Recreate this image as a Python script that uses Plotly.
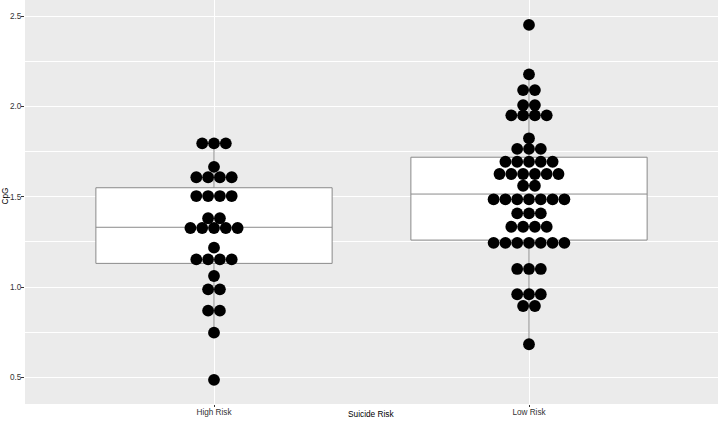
import plotly.graph_objects as go

# ---- data ----
categories = ["High Risk", "Low Risk"]
cat_pos = [1, 2]

# dot-row values (each entry = one dot)
high_risk = ([1.796] * 3 + [1.666] * 1 + [1.608] * 4 + [1.504] * 4 + [1.381] * 2 +
             [1.327] * 5 + [1.218] * 1 + [1.153] * 4 + [1.061] * 1 + [0.987] * 2 +
             [0.869] * 2 + [0.747] * 1 + [0.486] * 1)
low_risk = ([2.452] * 1 + [2.178] * 1 + [2.091] * 2 + [2.008] * 2 + [1.951] * 4 +
            [1.824] * 1 + [1.765] * 3 + [1.694] * 5 + [1.626] * 6 + [1.561] * 2 +
            [1.486] * 7 + [1.408] * 3 + [1.334] * 4 + [1.245] * 7 + [1.100] * 3 +
            [0.960] * 3 + [0.895] * 2 + [0.683] * 1)

# box statistics
box_q1 = [1.131, 1.260]
box_median = [1.331, 1.515]
box_q3 = [1.550, 1.719]
box_lower = [0.747, 0.683]
box_upper = [1.796, 2.178]

y_ticks = [0.5, 1.0, 1.5, 2.0, 2.5]
y_ticktext = ["0.5", "1.0", "1.5", "2.0", "2.5"]

# ---- figure ----
W, H = 718, 421
ML, MR, MT, MB = 25, 0, 0, 17
x_range = [0.4, 2.6]
y_range = [0.352, 2.590]

plot_w = W - ML - MR
dot_px = 11.8
dot_w = dot_px / plot_w * (x_range[1] - x_range[0])

fig = go.Figure()

for i, c in enumerate(categories):
    fig.add_trace(go.Box(
        x=[cat_pos[i]], q1=[box_q1[i]], median=[box_median[i]], q3=[box_q3[i]],
        lowerfence=[box_lower[i]], upperfence=[box_upper[i]],
        width=0.75, fillcolor="white", line=dict(color="#8a8a8a", width=1),
        whiskerwidth=0, boxpoints=False, hoverinfo="skip", showlegend=False,
    ))

def stack(values, center):
    xs, ys = [], []
    groups = {}
    for v in values:
        groups.setdefault(v, 0)
        groups[v] += 1
    for v, n in groups.items():
        for k in range(n):
            xs.append(center + (k - (n - 1) / 2) * dot_w)
            ys.append(v)
    return xs, ys

for vals, c in ((high_risk, cat_pos[0]), (low_risk, cat_pos[1])):
    xs, ys = stack(vals, c)
    fig.add_trace(go.Scatter(
        x=xs, y=ys, mode="markers",
        marker=dict(color="black", size=dot_px, line=dict(width=0)),
        showlegend=False, hoverinfo="skip",
    ))

font_family = "Liberation Sans, Arial, sans-serif"
tick_font = dict(size=8.2, color="#333333", family=font_family)

fig.update_layout(
    width=W, height=H,
    margin=dict(l=ML, r=MR, t=MT, b=MB, autoexpand=False),
    paper_bgcolor="white", plot_bgcolor="#EBEBEB",
    font=dict(family=font_family, size=8.2, color="#333333"),
    xaxis=dict(
        range=x_range, tickvals=cat_pos, ticktext=categories,
        showgrid=True, gridcolor="white", gridwidth=1.1, zeroline=False,
        ticks="outside", ticklen=2, tickcolor="#333333", tickwidth=1,
        showline=False, tickfont=tick_font, automargin=False,
        ticklabelstandoff=-2,
    ),
    yaxis=dict(
        range=y_range, tickvals=y_ticks, ticktext=y_ticktext,
        showgrid=True, gridcolor="white", gridwidth=1.1, zeroline=False,
        ticks="outside", ticklen=3, tickcolor="#333333", tickwidth=1,
        showline=False, tickfont=tick_font, automargin=False,
        ticklabelstandoff=-2,
        minor=dict(tickvals=[0.75, 1.25, 1.75, 2.25], showgrid=True,
                   gridcolor="white", gridwidth=0.5),
    ),
    annotations=[
        dict(text="Suicide Risk", xref="paper", yref="paper", x=0.5,
             y=-(414.5 - (H - MB)) / (H - MT - MB), xanchor="center", yanchor="middle",
             showarrow=False, font=dict(size=8.3, color="black", family=font_family)),
        dict(text="CpG", xref="paper", yref="paper",
             x=-(ML - 4.5) / plot_w, y=(H - MB - 196) / (H - MT - MB),
             xanchor="center", yanchor="middle",
             textangle=-90, showarrow=False,
             font=dict(size=8.3, color="black", family=font_family)),
    ],
)

fig.write_html("out.html", config={"displayModeBar": False},
               post_script="document.body.style.margin='0';")
